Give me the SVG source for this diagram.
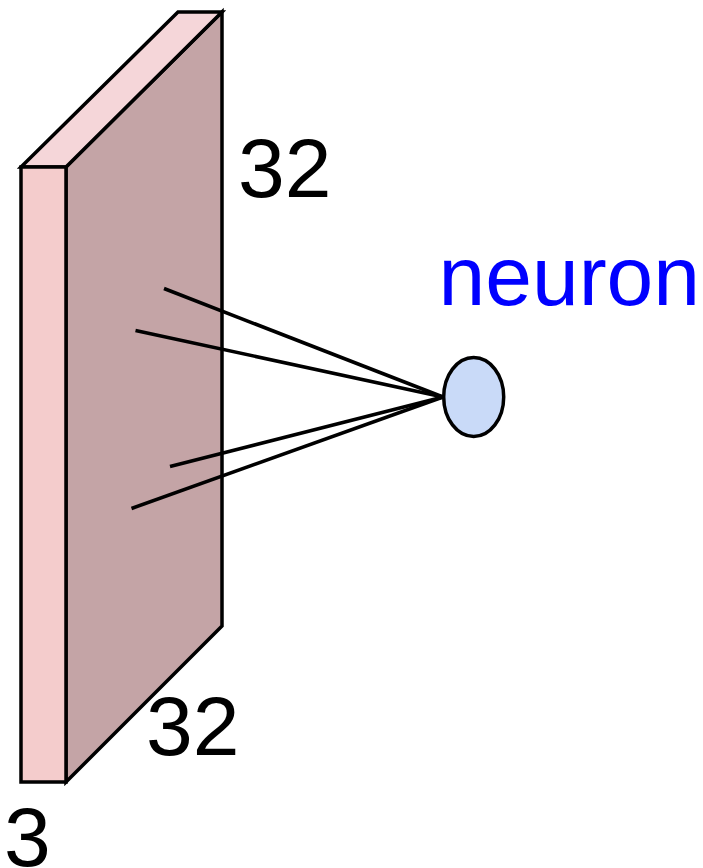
<svg xmlns="http://www.w3.org/2000/svg" width="703" height="868" viewBox="0 0 703 868">
<style>
.edge{stroke:#000;stroke-width:3.5;stroke-linejoin:miter;}
.lbl{font-family:"Liberation Sans",Arial,sans-serif;font-size:84px;fill:#000;}
.wire{stroke:#000;stroke-width:3.5;fill:none;stroke-linecap:butt;}
</style>
<rect width="703" height="868" fill="#fff"/>
<g id="volume">
<polygon class="edge" points="66,167 222,12 222,626 66,782" fill="#c4a4a6"/>
<polygon class="edge" points="21,167 66,167 222,12 178,12" fill="#f5d6d9"/>
<rect class="edge" x="21" y="167" width="45" height="615" fill="#f4cccc"/>
</g>
<g id="connectors">
<line class="wire" x1="164" y1="288.5" x2="443" y2="397"/>
<line class="wire" x1="135.5" y1="330.5" x2="443" y2="397"/>
<line class="wire" x1="170" y1="466.5" x2="443" y2="397"/>
<line class="wire" x1="131.5" y1="508.5" x2="443" y2="397"/>
</g>
<g id="neuron">
<ellipse cx="473.7" cy="397" rx="30" ry="39.5" fill="#c9daf8" stroke="#000" stroke-width="3.5"/>
<text x="438.5" y="305" class="lbl" style="fill:#0000ff">neuron</text>
</g>
<g id="labels">
<text x="238" y="197" class="lbl">32</text>
<text x="146" y="755" class="lbl">32</text>
<text x="4" y="866" class="lbl">3</text>
</g>
</svg>
